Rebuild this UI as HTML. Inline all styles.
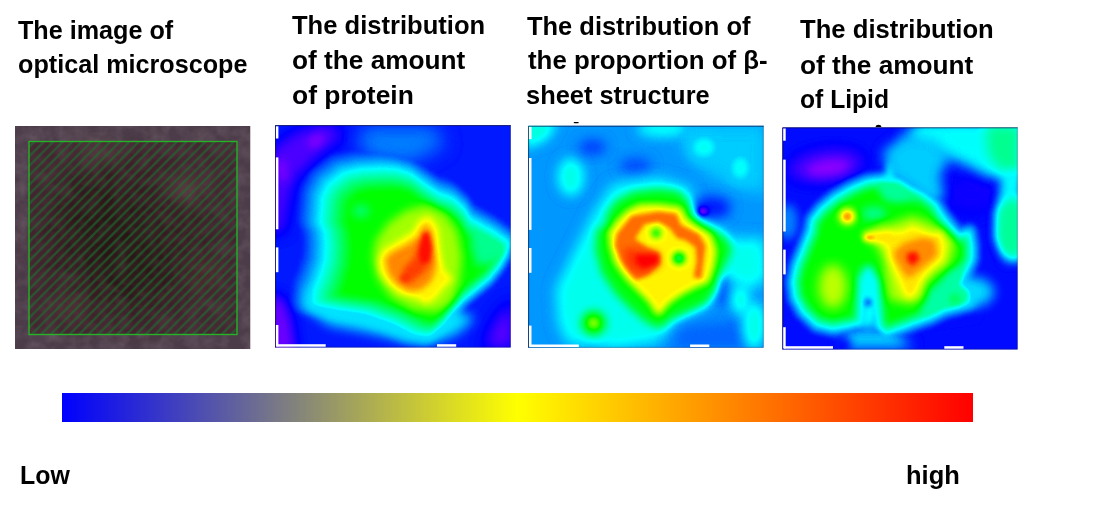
<!DOCTYPE html>
<html><head><meta charset="utf-8"><title>figure</title>
<style>
html,body{margin:0;padding:0;background:#fff;}
body{width:1101px;height:510px;position:relative;overflow:hidden;font-family:"Liberation Sans",sans-serif;}
.t{position:absolute;white-space:nowrap;font-weight:bold;font-size:25px;line-height:30px;color:#000;transform-origin:0 0;}
#fig .l{mix-blend-mode:lighten}#fig .d{mix-blend-mode:darken}
#bar{position:absolute;left:62px;top:393px;width:911px;height:29px;background:linear-gradient(to right,#0000ff 0%,#ffff00 50%,#ff0000 100%);}
</style></head><body>
<div class="t" id="t0" style="left:18.00px;top:15.00px;transform:scaleX(1.0065)">The image of</div>
<div class="t" id="t1" style="left:18.20px;top:49.00px;transform:scaleX(1.0071)">optical microscope</div>
<div class="t" id="t2" style="left:292.40px;top:10.00px;transform:scaleX(1.0225)">The distribution</div>
<div class="t" id="t3" style="left:292.00px;top:45.00px;transform:scaleX(1.0488)">of the amount</div>
<div class="t" id="t4" style="left:292.00px;top:80.00px;transform:scaleX(1.0567)">of protein</div>
<div class="t" id="t5" style="left:526.50px;top:11.00px;transform:scaleX(1.0183)">The distribution of</div>
<div class="t" id="t6" style="left:527.70px;top:45.00px;transform:scaleX(1.0331)">the proportion of β-</div>
<div class="t" id="t7" style="left:525.50px;top:80.00px;transform:scaleX(1.0169)">sheet structure</div>
<div class="t" id="t8" style="left:800.40px;top:14.00px;transform:scaleX(1.0257)">The distribution</div>
<div class="t" id="t9" style="left:800.00px;top:50.00px;transform:scaleX(1.0488)">of the amount</div>
<div class="t" id="t10" style="left:800.00px;top:84.00px;transform:scaleX(0.9865)">of Lipid</div>
<div class="t" id="t11" style="left:20.00px;top:460.00px;transform:scaleX(0.9962)">Low</div>
<div class="t" id="t12" style="left:906.00px;top:460.00px;transform:scaleX(1.0200)">high</div>
<div id="bar"></div>
<svg id="fig" width="1101" height="510" viewBox="0 0 1101 510" style="position:absolute;left:0;top:0"><defs><filter id="cmap" x="0" y="0" width="100%" height="100%" filterUnits="objectBoundingBox" color-interpolation-filters="sRGB">
<feComponentTransfer>
<feFuncR type="table" tableValues="0.55 0 0 0 0 0 0.5 1 1 1"/>
<feFuncG type="table" tableValues="0 0 0.5 1 1 1 1 1 0.5 0"/>
<feFuncB type="table" tableValues="1 1 1 1 0.5 0 0 0 0 0"/>
</feComponentTransfer></filter></defs>
<defs>
<filter id="mb12" x="-50%" y="-50%" width="200%" height="200%"><feGaussianBlur stdDeviation="12"/></filter>
<filter id="mb8" x="-50%" y="-50%" width="200%" height="200%"><feGaussianBlur stdDeviation="8"/></filter>
<filter id="noise" x="0" y="0" width="100%" height="100%"><feTurbulence type="fractalNoise" baseFrequency="0.07" numOctaves="3" seed="3"/><feColorMatrix type="matrix" values="0 0 0 0 0.5  0 0 0 0 0.45  0 0 0 0 0.5  0.5 0.5 0 0 -0.38"/></filter>
<pattern id="hatch" width="9.5" height="9.5" patternUnits="userSpaceOnUse" x="25.5" y="141"><path d="M-1 10.5 L10.5 -1 M-2 2 L2 -2 M7.5 11.5 L11.5 7.5" stroke="#1a7030" stroke-width="2.4" stroke-opacity="0.62"/></pattern>
<clipPath id="cm"><rect x="15" y="126" width="235.5" height="223"/></clipPath></defs>
<g clip-path="url(#cm)">
<rect x="15" y="126" width="235.5" height="223" fill="#4c3b48"/>
<ellipse cx="125" cy="240" rx="88" ry="82" fill="#3a2c31" filter="url(#mb12)"/>
<ellipse cx="118" cy="243" rx="42" ry="62" fill="#1c1a18" filter="url(#mb12)" transform="rotate(-40 118 243)"/>
<ellipse cx="100" cy="152" rx="22" ry="10" fill="#66565c" filter="url(#mb8)"/>
<ellipse cx="186" cy="188" rx="16" ry="14" fill="#6e5c60" filter="url(#mb8)"/>
<ellipse cx="70" cy="306" rx="18" ry="12" fill="#5a4448" filter="url(#mb8)"/>
<ellipse cx="204" cy="274" rx="16" ry="18" fill="#54403f" filter="url(#mb8)"/>
<rect x="15" y="126" width="235.5" height="223" filter="url(#noise)" opacity="0.5"/>
<rect x="28.5" y="141" width="209" height="194" fill="#3c0e16" opacity="0.45"/>
<rect x="28.5" y="141" width="209" height="194" fill="url(#hatch)"/>
<rect x="29.0" y="141.5" width="208" height="193" fill="none" stroke="#27b327" stroke-width="1.4"/>
</g>
<defs><filter id="b1_2_2" x="-60%" y="-60%" width="220%" height="220%" color-interpolation-filters="sRGB"><feGaussianBlur stdDeviation="2.2"/></filter><filter id="b1_2_5" x="-60%" y="-60%" width="220%" height="220%" color-interpolation-filters="sRGB"><feGaussianBlur stdDeviation="2.5"/></filter><filter id="b1_3" x="-60%" y="-60%" width="220%" height="220%" color-interpolation-filters="sRGB"><feGaussianBlur stdDeviation="3"/></filter><filter id="b1_4" x="-60%" y="-60%" width="220%" height="220%" color-interpolation-filters="sRGB"><feGaussianBlur stdDeviation="4"/></filter><filter id="b1_5" x="-60%" y="-60%" width="220%" height="220%" color-interpolation-filters="sRGB"><feGaussianBlur stdDeviation="5"/></filter><filter id="b1_6" x="-60%" y="-60%" width="220%" height="220%" color-interpolation-filters="sRGB"><feGaussianBlur stdDeviation="6"/></filter><filter id="b1_7" x="-60%" y="-60%" width="220%" height="220%" color-interpolation-filters="sRGB"><feGaussianBlur stdDeviation="7"/></filter><filter id="b1_8" x="-60%" y="-60%" width="220%" height="220%" color-interpolation-filters="sRGB"><feGaussianBlur stdDeviation="8"/></filter><filter id="b1_9" x="-60%" y="-60%" width="220%" height="220%" color-interpolation-filters="sRGB"><feGaussianBlur stdDeviation="9"/></filter><clipPath id="c1"><rect x="275.1" y="125.2" width="235.6" height="222.2"/></clipPath></defs>
<g clip-path="url(#c1)"><g filter="url(#cmap)">
<rect x="245.10000000000002" y="95.2" width="295.6" height="282.2" fill="#222222"/>
<path d="M270.0,150.0 297.0,131.0 329.0,122.0 344.0,136.0 316.0,158.0 294.0,180.0 288.0,205.0 284.0,232.0 270.0,234.0Z" fill="#0d0d0d" filter="url(#b1_7)"/>
<ellipse cx="316.0" cy="141.0" rx="9" ry="5" fill="#000000" filter="url(#b1_4)" transform="rotate(-35 316.0 141.0)"/>
<ellipse cx="282.0" cy="170.0" rx="5" ry="12" fill="#030303" filter="url(#b1_4)" transform="rotate(-10 282.0 170.0)"/>
<path d="M270.0,292.0 284.0,300.0 291.0,320.0 296.0,352.0 270.0,352.0Z" fill="#060606" filter="url(#b1_6)"/>
<path d="M497.5,318.4 513.4,300.2 513.4,348.0 483.8,348.0Z" fill="#080808" filter="url(#b1_8)"/>
<path d="M365.5,126.8 433.8,126.8 445.2,145.0 411.0,163.2 372.4,158.7 356.4,142.7Z" fill="#393939" filter="url(#b1_9)"/>
<path d="M312.8,169.5 309.6,172.7 308.0,175.3 302.4,186.6 300.9,191.1 298.3,218.9 299.3,224.7 303.2,233.0 304.0,242.4 303.1,255.2 298.9,268.5 293.4,281.9 291.6,298.2 291.9,303.0 293.5,307.6 296.4,311.4 301.7,315.0 327.6,320.4 354.2,324.0 378.9,332.7 402.3,344.2 419.1,347.4 425.4,347.2 431.1,344.7 447.1,331.4 459.5,314.5 467.0,307.0 492.7,285.8 503.0,273.1 511.7,258.7 516.1,244.8 516.8,240.1 515.6,233.9 512.2,228.6 496.2,216.9 473.7,204.6 468.3,195.5 454.3,182.9 449.8,180.6 438.2,176.8 410.5,157.4 391.3,151.4 375.5,150.2 351.4,151.5 334.2,155.1 330.0,156.6Z" fill="#2b2b2b" filter="url(#b1_2_5)" class="l"/>
<path d="M315.8,172.4 312.0,177.2 306.3,188.5 305.1,192.2 302.6,219.5 303.4,224.3 307.4,232.9 308.2,243.0 307.3,256.3 302.9,270.1 297.5,283.3 295.8,299.1 296.4,304.3 298.1,307.9 300.8,310.8 304.2,312.8 329.4,318.2 356.2,321.8 381.4,330.6 404.6,342.1 420.9,345.1 426.0,344.9 430.8,342.9 446.3,330.0 458.6,313.2 466.3,305.4 492.0,284.3 503.0,270.4 510.9,257.0 514.6,244.6 515.2,240.7 514.2,235.6 511.4,231.2 494.5,219.1 472.9,207.3 467.4,198.1 453.9,185.9 450.2,184.0 438.2,180.0 410.6,160.6 392.4,154.9 376.9,153.7 353.1,154.9 336.1,158.5 332.7,159.8Z" fill="#343434" filter="url(#b1_2_5)" class="l"/>
<path d="M318.9,175.3 315.9,179.0 310.2,190.4 309.1,194.3 306.8,221.1 307.4,223.9 311.5,232.7 312.4,243.6 311.5,257.4 307.0,271.7 301.6,284.8 300.0,300.9 300.5,304.0 301.8,306.8 303.9,309.1 306.6,310.7 331.3,315.9 358.2,319.5 383.8,328.5 407.0,340.0 422.7,342.8 426.7,342.7 430.5,341.1 445.6,328.5 457.6,311.9 465.7,303.8 491.2,282.9 501.8,269.5 509.5,256.5 513.6,241.3 512.4,236.3 509.9,233.1 494.4,222.2 472.1,210.0 466.5,200.6 453.5,188.8 450.6,187.3 438.3,183.2 410.7,163.9 393.5,158.4 378.4,157.2 354.8,158.4 335.3,162.9Z" fill="#3d3d3d" filter="url(#b1_2_5)" class="l"/>
<path d="M322.0,178.2 319.8,180.9 314.1,192.3 313.3,195.1 311.0,221.4 315.7,232.5 316.7,244.1 315.7,258.5 311.0,273.3 305.4,287.8 304.4,303.0 306.0,306.4 309.0,308.6 333.2,313.6 360.2,317.2 386.3,326.3 409.3,337.8 424.4,340.5 427.4,340.4 430.7,338.8 444.9,327.0 456.7,310.6 465.1,302.2 490.4,281.4 500.7,268.6 508.0,256.0 512.0,242.6 511.4,238.9 509.3,235.9 494.3,225.3 471.3,212.8 465.7,203.1 453.1,191.8 438.3,186.4 410.8,167.1 394.5,161.9 379.8,160.7 356.5,161.9 338.0,166.1Z" fill="#464646" filter="url(#b1_2_5)" class="l"/>
<path d="M325.1,181.1 323.7,182.8 317.5,196.0 315.3,221.8 319.9,232.3 320.9,244.7 319.9,259.7 315.1,274.8 309.7,288.1 308.5,302.5 309.5,305.1 311.4,306.5 335.4,311.4 362.2,315.0 388.7,324.2 411.7,335.7 428.1,338.2 430.2,337.1 444.1,325.5 455.8,309.3 464.4,300.6 489.7,279.9 499.1,268.2 506.6,255.6 510.4,242.9 510.0,240.6 508.7,238.7 494.2,228.5 470.4,215.5 464.8,205.6 452.7,194.7 438.3,189.7 425.3,181.0 410.9,170.3 395.6,165.3 381.3,164.2 358.2,165.4 340.6,169.3Z" fill="#4f4f4f" filter="url(#b1_2_5)" class="l"/>
<path d="M328.2,184.0 321.8,196.4 319.5,222.0 324.1,232.1 325.2,245.3 324.1,260.8 319.1,276.4 313.8,289.2 312.7,302.6 313.9,304.4 337.1,309.1 364.2,312.7 391.2,322.1 414.0,333.5 428.8,335.9 443.4,324.0 454.9,307.9 463.8,299.0 488.9,278.5 498.1,267.0 505.2,255.1 508.8,243.4 508.1,241.5 494.1,231.6 469.6,218.3 463.9,208.2 452.3,197.6 438.3,192.9 424.9,184.0 411.0,173.6 396.7,168.8 382.8,167.7 359.9,168.8 343.3,172.5Z" fill="#585858" filter="url(#b1_2_5)" class="l"/>
<path d="M331.5,186.8 326.0,197.8 323.7,222.4 328.3,232.1 329.4,245.8 328.3,261.8 323.2,278.0 318.0,290.4 317.0,302.4 338.8,306.8 366.2,310.4 393.6,320.0 416.3,331.4 429.4,333.5 442.6,322.5 454.0,306.6 463.1,297.5 488.1,277.0 497.1,265.8 503.9,254.5 507.0,244.0 494.0,234.7 468.9,221.0 463.0,210.7 451.9,200.7 438.3,196.1 424.5,186.9 411.0,176.8 397.6,172.3 384.2,171.2 361.5,172.3 345.9,175.7Z" fill="#616161" filter="url(#b1_2_5)" class="l"/>
<path d="M335.1,189.3 330.1,199.2 328.0,222.5 332.5,232.5 333.6,246.4 332.5,262.6 327.3,279.4 322.2,291.7 321.4,300.6 340.6,304.5 368.2,308.2 395.9,317.8 418.5,329.1 429.9,331.0 441.8,321.1 453.0,305.3 462.4,296.0 487.3,275.5 496.0,264.7 502.5,253.9 504.9,245.7 493.8,237.8 468.3,223.9 462.0,213.1 451.7,203.8 438.2,199.2 424.3,190.0 411.0,180.0 398.3,175.8 385.4,174.7 363.2,175.8 348.5,179.0Z" fill="#6a6a6a" filter="url(#b1_2_5)" class="l"/>
<path d="M338.7,191.8 334.3,200.6 332.3,222.5 336.7,232.8 337.9,247.0 336.7,263.4 331.4,280.9 326.4,293.0 325.8,298.9 342.4,302.2 370.2,305.9 398.1,315.7 420.8,326.9 430.3,328.5 440.9,319.7 452.1,304.0 461.6,294.5 486.6,274.1 494.9,263.6 501.1,253.3 502.9,247.5 493.5,240.9 467.8,226.7 461.0,215.5 451.5,207.0 438.1,202.4 424.0,193.0 410.9,183.2 399.1,179.2 386.7,178.2 364.9,179.3 351.0,182.3Z" fill="#737373" filter="url(#b1_2_5)" class="l"/>
<path d="M342.3,194.2 338.5,202.0 336.6,222.6 340.4,230.6 340.9,233.1 342.1,247.5 340.9,264.2 335.5,282.3 330.5,294.3 330.3,297.1 344.2,299.9 372.2,303.7 400.4,313.5 423.0,324.7 430.8,326.0 440.1,318.3 451.2,302.7 460.9,293.0 485.8,272.6 493.9,262.5 499.7,252.7 500.8,249.2 493.3,243.9 467.3,229.5 465.4,227.5 460.0,217.9 451.4,210.1 438.1,205.5 423.7,196.0 410.8,186.4 399.8,182.7 387.9,181.7 366.6,182.8 353.6,185.6Z" fill="#7c7c7c" filter="url(#b1_2_5)" class="l"/>
<path d="M334.8,295.4 346.0,297.6 374.2,301.4 402.7,311.3 425.2,322.5 431.3,323.5 439.2,316.9 450.3,301.4 460.1,291.6 485.0,271.1 492.8,261.4 498.7,251.0 493.1,247.0 466.7,232.4 464.3,229.8 459.0,220.4 451.2,213.3 438.0,208.7 423.4,199.0 410.8,189.6 400.5,186.2 389.2,185.2 368.3,186.3 356.2,188.9 346.0,196.7 342.7,203.3 340.9,222.7 344.4,230.2 345.1,233.5 346.3,248.1 345.1,265.0 339.6,283.8Z" fill="#858585" filter="url(#b1_2_5)" class="l"/>
<path d="M340.2,293.8 377.7,299.6 405.0,309.2 427.4,320.3 431.8,321.0 438.4,315.4 449.4,300.1 459.4,290.1 484.2,269.7 491.7,260.3 496.4,252.6 492.8,250.1 466.2,235.2 463.2,232.0 458.0,222.8 451.0,216.4 437.9,211.8 423.1,202.0 410.7,192.8 401.2,189.6 390.5,188.7 370.0,189.8 358.8,192.2 349.6,199.2 346.8,204.7 345.2,222.7 348.5,229.8 349.4,233.8 350.5,248.7 349.4,265.8 343.7,285.3Z" fill="#8e8e8e" filter="url(#b1_2_5)" class="l"/>
<path d="M304.1,288.9 306.4,309.3 329.1,325.3 365.5,332.1 406.5,341.2 433.8,343.5 456.5,334.4 474.7,318.4 452.0,307.1 429.2,318.4 383.7,307.1 338.2,300.2Z" fill="#4f4f4f" filter="url(#b1_6)" class="l"/>
<path d="M475.0,222.0 490.0,230.0 510.0,240.0 510.0,256.0 493.0,263.0 477.0,266.0 471.0,245.0Z" fill="#6e6e6e" filter="url(#b1_4)" class="d"/>
<ellipse cx="361.0" cy="211.0" rx="8" ry="6" fill="#717171" filter="url(#b1_5)"/>
<path d="M372.9,258.8 375.5,241.0 388.2,223.0 406.0,210.4 426.4,205.3 444.3,213.0 457.0,230.8 462.0,256.0 459.6,281.7 452.0,302.0 436.6,312.3 413.7,309.7 390.8,297.0 378.0,279.0Z" fill="#b2b2b2" filter="url(#b1_5)"/>
<path d="M378.8,257.9 378.7,269.6 386.8,283.1 400.1,293.8 418.0,298.8 425.8,303.9 427.3,303.8 435.3,298.5 443.2,288.2 452.5,279.8 452.2,277.9 444.8,270.5 441.2,253.4 438.5,227.6 430.6,216.8 429.5,216.1 420.1,219.0 412.2,231.8 383.1,249.5Z" fill="#c9c9c9" filter="url(#b1_3)"/>
<path d="M385.0,259.0 388.7,273.8 396.2,283.9 408.7,291.5 421.1,290.1 431.1,281.4 436.1,268.9 434.9,253.8 432.3,233.5 427.5,225.0 423.0,226.1 417.8,237.4 406.2,245.2 391.1,252.8Z" fill="#e1e1e1" filter="url(#b1_3)"/>
<path d="M420.0,240.0 430.0,240.0 432.0,262.0 422.0,274.0 409.0,284.0 400.0,280.0 404.0,268.0 414.0,258.0Z" fill="#f1f1f1" filter="url(#b1_3)"/>
<path d="M422.6,233.3 429.0,232.0 431.5,248.6 429.0,261.3 421.3,264.0 418.8,253.7Z" fill="#fcfcfc" filter="url(#b1_2_2)"/>
<ellipse cx="404.8" cy="277.9" rx="3.5" ry="3.5" fill="#f6f6f6" filter="url(#b1_2_5)"/>
</g></g>
<defs><filter id="b2_2_2" x="-60%" y="-60%" width="220%" height="220%" color-interpolation-filters="sRGB"><feGaussianBlur stdDeviation="2.2"/></filter><filter id="b2_2_5" x="-60%" y="-60%" width="220%" height="220%" color-interpolation-filters="sRGB"><feGaussianBlur stdDeviation="2.5"/></filter><filter id="b2_3" x="-60%" y="-60%" width="220%" height="220%" color-interpolation-filters="sRGB"><feGaussianBlur stdDeviation="3"/></filter><filter id="b2_3_5" x="-60%" y="-60%" width="220%" height="220%" color-interpolation-filters="sRGB"><feGaussianBlur stdDeviation="3.5"/></filter><filter id="b2_4" x="-60%" y="-60%" width="220%" height="220%" color-interpolation-filters="sRGB"><feGaussianBlur stdDeviation="4"/></filter><filter id="b2_5" x="-60%" y="-60%" width="220%" height="220%" color-interpolation-filters="sRGB"><feGaussianBlur stdDeviation="5"/></filter><filter id="b2_6" x="-60%" y="-60%" width="220%" height="220%" color-interpolation-filters="sRGB"><feGaussianBlur stdDeviation="6"/></filter><filter id="b2_7" x="-60%" y="-60%" width="220%" height="220%" color-interpolation-filters="sRGB"><feGaussianBlur stdDeviation="7"/></filter><filter id="b2_8" x="-60%" y="-60%" width="220%" height="220%" color-interpolation-filters="sRGB"><feGaussianBlur stdDeviation="8"/></filter><clipPath id="c2"><rect x="528.2" y="125.8" width="235.4" height="221.9"/></clipPath></defs>
<g clip-path="url(#c2)"><g filter="url(#cmap)">
<rect x="498.20000000000005" y="95.8" width="295.4" height="281.9" fill="#3e3e3e"/>
<path d="M524.3,121.1 558.4,121.1 547.0,139.3 524.3,149.6Z" fill="#5e5e5e" filter="url(#b2_6)"/>
<ellipse cx="570.9" cy="176.9" rx="13" ry="19" fill="#5b5b5b" filter="url(#b2_6)"/>
<ellipse cx="663.0" cy="129.1" rx="26" ry="8" fill="#585858" filter="url(#b2_6)"/>
<ellipse cx="704.0" cy="147.3" rx="14" ry="12" fill="#595959" filter="url(#b2_6)"/>
<ellipse cx="740.4" cy="167.8" rx="11" ry="14" fill="#595959" filter="url(#b2_6)"/>
<ellipse cx="592.5" cy="147.3" rx="14" ry="8" fill="#2a2a2a" filter="url(#b2_6)"/>
<ellipse cx="635.7" cy="165.5" rx="16" ry="8" fill="#2d2d2d" filter="url(#b2_6)"/>
<path d="M681.2,124.5 767.7,124.5 767.7,195.1 733.6,188.2 694.9,165.5 681.2,147.3Z" fill="#4a4a4a" filter="url(#b2_8)" class="l"/>
<path d="M592.5,215.5 613.0,184.8 658.5,178.0 690.3,188.2 698.3,213.3 726.7,233.7 726.7,238.8 765.4,238.8 765.4,254.7 767.7,277.5 749.5,291.1 726.7,277.5 715.4,288.9 704.0,307.1 676.7,323.0 658.5,341.2 617.5,348.0 567.5,343.5 558.4,323.0 556.1,288.9 567.5,266.1Z" fill="#595959" filter="url(#b2_7)"/>
<ellipse cx="711.9" cy="207.6" rx="19" ry="11" fill="#222222" filter="url(#b2_6)"/>
<ellipse cx="702.8" cy="211.4" rx="5" ry="4" fill="#000000" filter="url(#b2_2_5)"/>
<ellipse cx="722.2" cy="291.1" rx="6" ry="16" fill="#303030" filter="url(#b2_5)"/>
<path d="M679.0,325.3 749.5,318.4 765.4,329.8 765.4,350.3 669.9,350.3Z" fill="#333333" filter="url(#b2_7)"/>
<ellipse cx="740.4" cy="300.2" rx="8" ry="14" fill="#606060" filter="url(#b2_6)"/>
<ellipse cx="754.0" cy="326.0" rx="12" ry="24" fill="#5b5b5b" filter="url(#b2_6)" class="l"/>
<path d="M604.5,227.6 600.0,227.3 597.9,228.6 596.9,230.3 595.5,249.9 601.7,273.0 615.9,294.3 632.2,310.6 646.7,322.6 657.6,327.9 661.2,327.2 672.5,318.2 705.3,303.7 715.3,291.2 720.0,274.8 731.7,251.0 731.2,248.0 725.7,237.6 713.5,229.5 700.1,222.8 692.6,215.3 689.0,201.7 680.2,192.7 677.8,191.3 658.5,188.9 633.5,191.7 616.0,200.9 607.2,213.6Z" fill="#8b8b8b" filter="url(#b2_4)"/>
<path d="M611.7,228.5 609.2,229.7 608.4,232.3 609.5,246.3 614.5,263.3 626.2,279.8 648.9,302.4 655.5,313.4 657.0,314.8 658.9,315.1 660.8,314.3 670.0,302.9 683.0,294.2 696.3,287.5 707.9,282.9 709.3,281.5 714.2,266.9 716.6,250.4 711.9,235.4 710.7,233.8 694.6,224.0 686.3,217.8 682.0,208.1 680.6,206.8 658.9,204.1 639.3,204.2 626.7,210.5 614.8,222.4Z" fill="#c9c9c9" filter="url(#b2_3_5)"/>
<path d="M617.0,234.0 614.8,245.6 620.3,259.0 629.4,272.6 635.9,280.2 649.0,274.7 660.2,263.6 660.2,252.9 649.1,248.5 635.1,238.8 644.5,224.2 658.4,221.8 670.3,228.8 677.0,238.3 686.0,240.6 695.4,247.6 696.6,261.6 693.3,277.1 701.2,279.0 705.6,245.8 699.0,234.2 680.8,225.0 676.3,213.8 658.5,211.6 631.5,216.1Z" fill="#e7e7e7" filter="url(#b2_2_2)"/>
<path d="M624.4,247.9 658.0,252.5 659.6,266.1 640.3,275.2 626.6,266.1Z" fill="#f4f4f4" filter="url(#b2_4)"/>
<path d="M635.7,254.7 658.0,254.7 658.0,262.9 643.7,268.4 636.9,263.8Z" fill="#ffffff" filter="url(#b2_2_5)"/>
<ellipse cx="656.2" cy="233.1" rx="5" ry="5" fill="#888888" filter="url(#b2_3)"/>
<ellipse cx="679.0" cy="258.2" rx="6" ry="6" fill="#717171" filter="url(#b2_3)"/>
<ellipse cx="593.7" cy="323.0" rx="12" ry="12" fill="#969696" filter="url(#b2_5)"/>
<ellipse cx="593.7" cy="323.0" rx="4" ry="4" fill="#b8b8b8" filter="url(#b2_3)"/>
</g></g>
<defs><filter id="b3_1_5" x="-60%" y="-60%" width="220%" height="220%" color-interpolation-filters="sRGB"><feGaussianBlur stdDeviation="1.5"/></filter><filter id="b3_2" x="-60%" y="-60%" width="220%" height="220%" color-interpolation-filters="sRGB"><feGaussianBlur stdDeviation="2"/></filter><filter id="b3_2_5" x="-60%" y="-60%" width="220%" height="220%" color-interpolation-filters="sRGB"><feGaussianBlur stdDeviation="2.5"/></filter><filter id="b3_3" x="-60%" y="-60%" width="220%" height="220%" color-interpolation-filters="sRGB"><feGaussianBlur stdDeviation="3"/></filter><filter id="b3_3_5" x="-60%" y="-60%" width="220%" height="220%" color-interpolation-filters="sRGB"><feGaussianBlur stdDeviation="3.5"/></filter><filter id="b3_4" x="-60%" y="-60%" width="220%" height="220%" color-interpolation-filters="sRGB"><feGaussianBlur stdDeviation="4"/></filter><filter id="b3_5" x="-60%" y="-60%" width="220%" height="220%" color-interpolation-filters="sRGB"><feGaussianBlur stdDeviation="5"/></filter><filter id="b3_6" x="-60%" y="-60%" width="220%" height="220%" color-interpolation-filters="sRGB"><feGaussianBlur stdDeviation="6"/></filter><filter id="b3_7" x="-60%" y="-60%" width="220%" height="220%" color-interpolation-filters="sRGB"><feGaussianBlur stdDeviation="7"/></filter><clipPath id="c3"><rect x="782.4" y="127.4" width="235.2" height="222"/></clipPath></defs>
<g clip-path="url(#c3)"><g filter="url(#cmap)">
<rect x="752.4" y="97.4" width="295.2" height="282" fill="#1f1f1f"/>
<ellipse cx="826.0" cy="165.5" rx="38" ry="16" fill="#0e0e0e" filter="url(#b3_7)" transform="rotate(-8 826.0 165.5)"/>
<ellipse cx="828.3" cy="167.8" rx="22" ry="8" fill="#000000" filter="url(#b3_5)" transform="rotate(-8 828.3 167.8)"/>
<ellipse cx="971.6" cy="195.1" rx="26" ry="18" fill="#1a1a1a" filter="url(#b3_7)"/>
<path d="M912.5,124.5 1019.4,124.5 1019.4,179.1 992.1,176.9 976.2,168.9 948.9,158.7 921.6,149.6 903.4,140.5Z" fill="#4f4f4f" filter="url(#b3_7)"/>
<path d="M917.0,125.0 1020.0,125.0 1020.0,175.0 985.7,171.3 966.0,156.6 936.7,146.8 917.0,139.4Z" fill="#565656" filter="url(#b3_6)"/>
<path d="M985.7,125.0 1020.0,125.0 1020.0,178.0 1000.4,171.3 988.0,154.0Z" fill="#6e6e6e" filter="url(#b3_6)"/>
<path d="M1003.0,170.0 1022.0,170.0 1022.0,262.0 1006.0,262.0 998.0,240.0 996.0,215.0Z" fill="#555555" filter="url(#b3_5)"/>
<path d="M998.0,210.0 1006.0,201.0 1022.0,198.0 1022.0,257.0 1003.0,254.6 996.0,237.5Z" fill="#6c6c6c" filter="url(#b3_5)"/>
<ellipse cx="788.0" cy="222.0" rx="10" ry="18" fill="#393939" filter="url(#b3_5)" class="l"/>
<path d="M844.2,329.8 894.3,329.8 912.5,348.0 844.2,348.0Z" fill="#4f4f4f" filter="url(#b3_7)"/>
<ellipse cx="844.2" cy="344.6" rx="6" ry="5" fill="#171717" filter="url(#b3_4)"/>
<path d="M882.9,151.8 903.4,135.9 935.2,138.2 948.9,156.4 939.8,176.9 944.3,195.1 935.2,206.4 917.0,195.1 903.4,186.0 889.7,176.9Z" fill="#4a4a4a" filter="url(#b3_6)"/>
<path d="M801.7,228.3 794.8,246.8 787.7,263.3 784.1,280.1 784.0,283.3 786.7,300.9 795.3,316.6 810.7,331.5 813.0,333.1 830.7,337.6 834.5,337.7 863.6,331.7 867.3,329.2 869.5,325.2 870.1,329.1 871.2,331.4 879.1,339.8 882.7,342.1 886.9,342.5 933.6,326.0 947.5,319.1 960.2,316.0 972.8,311.0 975.8,309.0 977.8,306.1 978.5,302.5 978.3,289.3 976.2,285.1 971.4,281.2 979.8,263.4 980.7,260.1 980.8,244.9 978.4,230.5 977.1,227.2 974.0,224.1 970.7,222.9 967.2,223.1 961.3,225.1 949.6,210.3 941.6,197.6 928.8,187.4 914.7,180.3 902.2,172.4 882.8,170.4 866.0,172.3 846.5,180.3 829.9,189.8 815.0,202.3 804.2,215.9Z" fill="#2d2d2d" filter="url(#b3_2_5)" class="l"/>
<path d="M804.3,229.1 797.3,247.8 790.3,264.2 786.6,282.4 789.2,300.1 797.7,315.3 814.2,330.7 833.4,335.1 850.2,332.0 862.1,329.3 864.4,328.2 866.1,326.4 867.0,324.0 868.9,295.1 872.8,328.9 881.4,338.4 885.3,339.9 899.8,335.5 914.7,329.5 932.8,323.4 946.6,316.6 960.4,313.1 972.3,308.3 975.3,305.0 975.8,302.5 975.5,289.2 973.8,286.4 968.1,282.1 978.1,259.9 978.1,245.1 975.7,230.9 974.9,228.6 972.6,226.4 969.7,225.5 960.3,228.3 947.4,211.8 939.7,199.5 927.3,189.6 913.4,182.6 901.2,174.9 882.8,173.1 866.3,175.0 847.9,182.6 831.5,192.0 816.9,204.2 806.6,217.2Z" fill="#3b3b3b" filter="url(#b3_2_5)" class="l"/>
<path d="M806.9,230.0 792.9,265.0 789.3,282.2 791.8,299.2 800.0,313.9 815.3,328.2 833.2,332.4 849.6,329.4 863.1,325.8 864.4,323.6 867.3,283.0 868.5,280.3 870.2,283.2 875.2,327.5 882.9,336.1 884.8,337.1 886.9,337.0 898.9,332.9 913.8,327.0 931.9,320.9 945.7,314.0 959.4,310.6 971.1,305.9 972.8,304.0 972.8,289.6 971.6,288.1 964.8,283.0 968.3,274.5 975.3,260.0 975.4,245.3 972.6,230.0 971.0,228.6 968.8,228.3 959.3,231.5 945.2,213.4 937.9,201.4 925.9,191.9 912.1,185.0 900.2,177.4 882.9,175.8 866.6,177.7 849.2,185.0 833.0,194.2 818.8,206.1 809.0,218.4Z" fill="#494949" filter="url(#b3_2_5)" class="l"/>
<path d="M809.4,231.1 795.4,265.8 792.0,282.1 794.4,298.5 802.5,312.8 816.5,325.8 833.0,329.8 849.0,326.8 861.4,323.7 864.7,282.3 868.2,274.3 872.8,282.4 877.8,326.7 885.4,334.5 931.0,318.3 944.7,311.5 958.4,308.1 970.4,302.9 970.4,290.7 961.6,283.9 965.8,273.4 972.7,259.5 972.7,245.6 970.3,231.4 969.1,230.9 958.4,234.7 943.0,214.9 936.0,203.4 924.5,194.1 910.8,187.3 899.2,179.9 882.9,178.5 866.9,180.3 850.5,187.3 834.5,196.4 820.7,208.0 811.4,219.6Z" fill="#565656" filter="url(#b3_2_5)" class="l"/>
<path d="M810.6,235.3 798.0,266.6 794.7,282.1 796.9,297.4 804.6,311.1 817.7,323.4 832.9,327.0 859.1,321.7 862.0,281.7 866.7,271.0 867.8,270.2 869.4,270.9 875.3,281.6 880.3,325.7 886.1,331.6 930.1,315.8 943.8,309.0 957.5,305.5 967.8,301.4 967.8,291.9 959.2,285.5 958.7,284.4 963.3,272.4 970.0,258.9 970.0,245.8 968.1,234.1 958.4,237.6 957.0,237.3 940.8,216.5 934.0,205.2 923.0,196.4 909.5,189.7 898.3,182.5 882.9,181.2 867.4,183.0 851.8,189.7 836.1,198.7 822.6,209.8 813.9,220.8 811.7,234.2Z" fill="#646464" filter="url(#b3_2_5)" class="l"/>
<path d="M812.8,237.1 800.6,267.4 797.4,282.2 799.5,296.6 806.7,309.4 819.0,320.9 833.0,324.3 856.5,319.5 859.4,281.2 864.4,269.7 867.3,267.6 869.8,267.8 871.4,269.1 877.9,280.7 882.9,324.5 886.8,328.5 929.0,313.3 942.8,306.5 956.7,303.0 965.1,299.6 965.1,293.3 957.4,287.5 956.0,284.4 960.8,271.4 967.4,258.3 967.4,246.0 966.0,237.7 958.6,240.3 955.4,239.5 938.7,218.2 932.0,207.0 921.5,198.7 908.3,192.1 897.4,185.1 883.0,183.9 868.1,185.6 853.0,192.1 837.6,200.9 824.6,211.7 816.4,221.9 814.3,234.9Z" fill="#727272" filter="url(#b3_2_5)" class="l"/>
<path d="M815.1,238.6 803.1,268.2 800.1,282.3 802.0,295.7 808.8,307.7 820.4,318.5 833.1,321.6 854.0,317.4 856.7,280.7 862.4,267.8 864.3,266.0 866.8,265.0 870.8,265.4 873.5,267.3 880.4,279.9 885.5,323.3 887.6,325.4 928.0,310.9 941.9,303.9 955.8,300.4 962.4,297.8 962.4,294.6 955.0,288.9 953.9,287.2 953.3,284.5 953.8,281.7 958.3,270.4 964.7,257.7 964.7,246.2 963.8,241.3 958.3,243.0 953.8,241.6 936.6,219.9 929.9,208.8 920.1,201.0 907.1,194.5 896.5,187.8 883.0,186.6 868.8,188.2 854.2,194.5 839.1,203.1 826.5,213.6 819.0,223.0 816.8,235.6Z" fill="#808080" filter="url(#b3_2_5)" class="l"/>
<path d="M817.4,240.0 805.7,269.1 802.9,282.4 804.6,294.8 811.0,306.0 821.7,316.0 833.1,318.8 851.4,315.2 854.4,279.1 860.2,266.3 862.9,263.7 866.3,262.3 870.9,262.6 874.9,264.9 883.0,279.0 888.3,322.3 909.4,314.3 927.0,308.4 941.0,301.4 955.0,297.9 959.7,296.0 952.4,290.0 951.1,287.4 950.6,283.6 955.8,269.4 962.0,257.0 961.7,244.9 956.6,245.6 953.9,244.8 951.5,243.2 934.5,221.6 927.8,210.6 918.6,203.2 905.9,196.9 895.6,190.4 883.1,189.3 869.5,190.9 855.4,196.9 840.7,205.3 828.4,215.5 821.5,224.2 819.4,236.3Z" fill="#8e8e8e" filter="url(#b3_2_5)" class="l"/>
<path d="M879.9,179.9 889.8,168.9 903.0,179.9 911.8,195.3 920.5,204.0 911.8,200.8 898.6,203.0 885.4,200.8 877.7,189.8Z" fill="#6c6c6c" filter="url(#b3_3_5)" class="d"/>
<path d="M882.9,183.7 889.7,158.7 896.6,183.7Z" fill="#555555" filter="url(#b3_3)" class="l"/>
<path d="M862.4,272.9 873.8,277.5 876.1,307.1 873.8,327.5 862.4,327.5 863.6,307.1Z" fill="#5b5b5b" filter="url(#b3_4)"/>
<ellipse cx="868.1" cy="302.5" rx="3" ry="4" fill="#2a2a2a" filter="url(#b3_2_5)"/>
<ellipse cx="873.9" cy="213.5" rx="12" ry="7" fill="#6e6e6e" filter="url(#b3_4)"/>
<ellipse cx="832.9" cy="286.6" rx="14" ry="22" fill="#b8b8b8" filter="url(#b3_6)"/>
<ellipse cx="972.0" cy="292.0" rx="22" ry="15" fill="#4d4d4d" filter="url(#b3_6)" class="l"/>
<path d="M948.4,268.6 969.0,265.9 975.0,315.3 922.3,322.0 921.0,308.4 926.5,292.0 940.2,281.0Z" fill="#696969" filter="url(#b3_4)" class="d"/>
<ellipse cx="955.0" cy="299.0" rx="6" ry="5" fill="#7d7d7d" filter="url(#b3_3_5)" class="l"/>
<ellipse cx="847.4" cy="216.5" rx="9" ry="9" fill="#c1c1c1" filter="url(#b3_3_5)"/>
<ellipse cx="847.4" cy="216.5" rx="5.5" ry="5.5" fill="#d2d2d2" filter="url(#b3_2_5)"/>
<ellipse cx="847.4" cy="216.5" rx="2.6" ry="2.6" fill="#e8e8e8" filter="url(#b3_2)"/>
<path d="M867.0,233.7 878.4,224.6 894.3,222.4 912.5,215.5 930.7,222.4 944.3,231.5 951.2,236.0 955.7,241.1 953.4,254.7 948.9,266.1 935.2,275.2 926.1,284.3 923.9,298.0 912.5,304.8 889.7,300.2 885.2,277.5 882.9,259.3 876.1,245.6 864.7,238.8 862.4,232.0Z" fill="#b5b5b5" filter="url(#b3_5)"/>
<path d="M902.9,231.1 865.8,232.8 864.7,233.3 864.4,234.3 866.3,240.1 877.9,241.4 886.1,246.6 888.3,257.5 892.9,269.0 905.4,297.5 906.9,298.3 914.7,296.7 922.9,279.5 931.7,269.5 943.2,260.2 945.8,245.6 941.2,231.5 940.3,230.6 938.9,230.8 934.9,234.3 922.2,230.1 912.4,225.4Z" fill="#cccccc" filter="url(#b3_3_5)"/>
<path d="M894.0,251.6 895.1,259.0 901.8,270.2 908.1,278.7 914.3,274.6 925.6,265.5 937.8,254.5 934.6,239.5 921.6,237.4 903.8,242.9Z" fill="#e0e0e0" filter="url(#b3_3)"/>
<path d="M864.0,234.5 880.0,234.0 892.0,232.0 892.0,241.0 880.0,241.0 864.0,240.5Z" fill="#cccccc" filter="url(#b3_2_5)"/>
<ellipse cx="870.0" cy="237.6" rx="4" ry="1.5" fill="#dddddd" filter="url(#b3_1_5)"/>
<path d="M906.8,253.6 915.9,251.3 919.8,258.8 912.5,266.1 906.8,260.4Z" fill="#fcfcfc" filter="url(#b3_2_5)"/>
</g></g>
<path d="M275.5 347.4 V125.60000000000001 H510.70000000000005" fill="none" stroke="#0a0a40" stroke-width="0.9" stroke-opacity="0.8"/><path d="M275.1 347.09999999999997 H510.40000000000003 V125.2" fill="none" stroke="#1a1a30" stroke-width="0.7" stroke-opacity="0.45"/><rect x="275.90000000000003" y="126.3" width="2.5" height="12.200000000000003" fill="#fff"/><rect x="275.90000000000003" y="157.4" width="2.5" height="71.9" fill="#fff"/><rect x="275.90000000000003" y="247.4" width="2.5" height="24.799999999999983" fill="#fff"/><rect x="275.90000000000003" y="325.0" width="2.5" height="21.399999999999977" fill="#fff"/><rect x="276.5" y="344.2" width="49.200000000000045" height="2.5" fill="#fff"/><rect x="437.0" y="344.2" width="19.200000000000045" height="2.5" fill="#fff"/>
<path d="M528.6 347.7 V126.2 H763.6" fill="none" stroke="#0a0a40" stroke-width="0.9" stroke-opacity="0.8"/><path d="M528.2 347.4 H763.3000000000001 V125.8" fill="none" stroke="#1a1a30" stroke-width="0.7" stroke-opacity="0.45"/><rect x="529.0" y="126.89999999999999" width="2.5" height="12.200000000000003" fill="#fff"/><rect x="529.0" y="158.0" width="2.5" height="71.89999999999998" fill="#fff"/><rect x="529.0" y="248.0" width="2.5" height="24.80000000000001" fill="#fff"/><rect x="529.0" y="325.6" width="2.5" height="21.099999999999966" fill="#fff"/><rect x="529.6" y="344.5" width="49.200000000000045" height="2.5" fill="#fff"/><rect x="690.1" y="344.5" width="19.200000000000045" height="2.5" fill="#fff"/>
<path d="M782.8 349.4 V127.80000000000001 H1017.5999999999999" fill="none" stroke="#0a0a40" stroke-width="0.9" stroke-opacity="0.8"/><path d="M782.4 349.09999999999997 H1017.3 V127.4" fill="none" stroke="#1a1a30" stroke-width="0.7" stroke-opacity="0.45"/><rect x="783.1999999999999" y="128.5" width="2.5" height="12.200000000000017" fill="#fff"/><rect x="783.1999999999999" y="159.60000000000002" width="2.5" height="71.89999999999998" fill="#fff"/><rect x="783.1999999999999" y="249.60000000000002" width="2.5" height="24.799999999999955" fill="#fff"/><rect x="783.1999999999999" y="327.20000000000005" width="2.5" height="21.199999999999932" fill="#fff"/><rect x="783.8" y="346.2" width="49.200000000000045" height="2.5" fill="#fff"/><rect x="944.3" y="346.2" width="19.200000000000045" height="2.5" fill="#fff"/>
<rect x="573.7" y="121.9" width="5" height="1.3" rx="0.6" fill="#000"/>
<path d="M875.5 127 Q875.8 124.8 878.5 124.8 Q881.2 124.8 881.5 127 Z" fill="#000"/>
</svg>
</body></html>
